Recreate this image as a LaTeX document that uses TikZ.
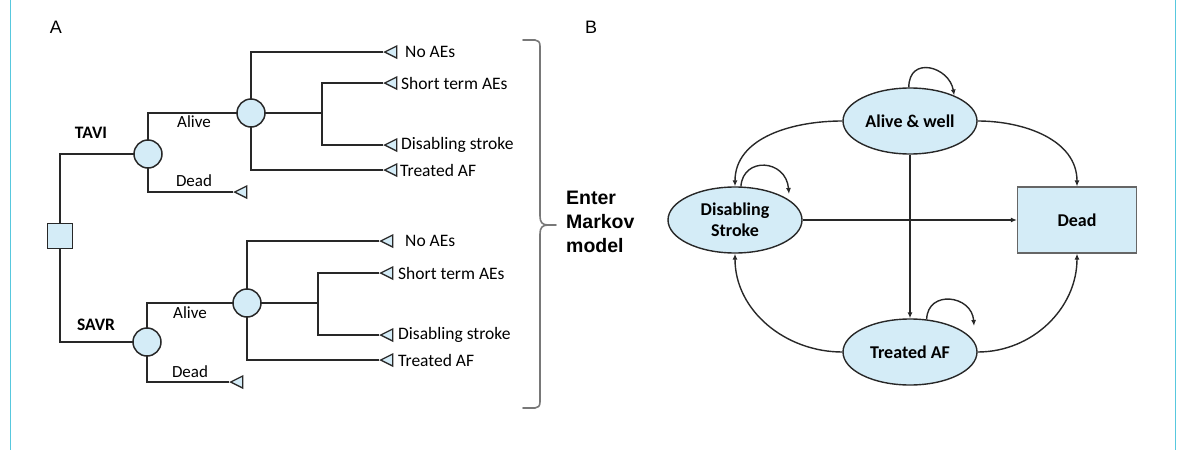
\documentclass[tikz,border=0pt]{standalone}
\usepackage{fontspec}
\setmainfont{Carlito}
\newfontfamily\arialfont{Liberation Sans}
\usetikzlibrary{shapes.geometric,arrows.meta,calc}

\definecolor{edgegray}{RGB}{40,40,40}
\definecolor{nodefill}{RGB}{212,236,247}
\definecolor{bracegray}{RGB}{120,120,120}
\definecolor{rulecyan}{RGB}{88,200,222}

\pgfdeclarelayer{background}
\pgfsetlayers{background,main}

\tikzset{
  treeline/.style={draw=edgegray, line width=1.9pt},
  decision/.style={draw=edgegray, fill=nodefill, line width=1.5pt, minimum size=25pt, inner sep=0pt},
  chance/.style={circle, draw=edgegray, fill=nodefill, line width=1.5pt, minimum size=28pt, inner sep=0pt},
  terminal/.style={isosceles triangle, isosceles triangle stretches, shape border rotate=180,
    draw=edgegray, fill=nodefill, line width=1.3pt, minimum width=12pt, minimum height=12pt, inner sep=0pt, anchor=apex},
  outcome/.style={anchor=west, inner sep=0pt, font=\fontsize{17.5}{19}\selectfont},
  branch/.style={inner sep=0pt, font=\fontsize{17}{19}\selectfont},
  armlabel/.style={inner sep=0pt, font=\fontsize{17.5}{19}\selectfont\bfseries},
  state/.style={ellipse, draw=edgegray, fill=nodefill, line width=1.4pt, minimum width=134pt, minimum height=66pt,
    inner sep=0pt, align=center, font=\fontsize{18}{21}\selectfont\bfseries},
  absorb/.style={rectangle, draw=gray!80!black, fill=nodefill, line width=1.2pt, minimum width=119pt, minimum height=66pt,
    inner sep=0pt, font=\fontsize{18}{21}\selectfont\bfseries},
  trans/.style={draw=edgegray, line width=1.4pt, -{Latex[length=6pt,width=5pt]}},
  panel/.style={inner sep=0pt, font=\arialfont\fontsize{18}{20}\selectfont},
}

\begin{document}
\begin{tikzpicture}[x=1pt, y=1pt]
\useasboundingbox (0,0) rectangle (1178,-450);

% side rules
\draw[rulecyan, line width=1.6pt] (10.5,0) -- (10.5,-450);
\draw[rulecyan, line width=1.6pt] (1175.5,0) -- (1175.5,-450);

% panel letters
\node[panel] (la) at (56,-27) {A};
\node[panel] (lb) at (591,-27) {B};

% ---------- decision tree ----------
\node[decision] (dec) at (60,-236) {};

% TAVI arm
\node[chance] (tc1) at (148,-154) {};
\node[chance] (tc2) at (251,-113) {};
\coordinate (tj) at (322,-113);
\node[terminal] (tdead) at (233,-192) {};
\node[terminal] (tno)   at (383,-52)  {};
\node[terminal] (tst)   at (383,-83)  {};
\node[terminal] (tds)   at (383,-145) {};
\node[terminal] (taf)   at (383,-170) {};

% SAVR arm
\node[chance] (sc1) at (147,-342) {};
\node[chance] (sc2) at (247,-303) {};
\coordinate (sj) at (318,-303);
\node[terminal] (sdead) at (229,-382) {};
\node[terminal] (sno)   at (379,-241) {};
\node[terminal] (sst)   at (379,-273) {};
\node[terminal] (sds)   at (379,-335) {};
\node[terminal] (saf)   at (379,-360) {};

% branch lines, kept behind the node shapes
\begin{pgfonlayer}{background}
\draw[treeline] (dec.center) |- (tc1.center);
\draw[treeline] (dec.center) |- (sc1.center);
\draw[treeline] (tc1.center) |- (tc2.center);
\draw[treeline] (tc1.center) |- (tdead.apex);
\draw[treeline] (tc2.center) |- (tno.apex);
\draw[treeline] (tc2.center) |- (taf.apex);
\draw[treeline] (tc2.center) -- (tj);
\draw[treeline] (tj) |- (tst.apex);
\draw[treeline] (tj) |- (tds.apex);
\draw[treeline] (sc1.center) |- (sc2.center);
\draw[treeline] (sc1.center) |- (sdead.apex);
\draw[treeline] (sc2.center) |- (sno.apex);
\draw[treeline] (sc2.center) |- (saf.apex);
\draw[treeline] (sc2.center) -- (sj);
\draw[treeline] (sj) |- (sst.apex);
\draw[treeline] (sj) |- (sds.apex);
\end{pgfonlayer}

% arm and branch labels
\node[armlabel] (ltavi) at (91,-133) {TAVI};
\node[armlabel] (lsavr) at (96,-325) {SAVR};
\node[branch] (ta) at (194,-122) {Alive};
\node[branch] (td) at (194,-181) {Dead};
\node[branch] (sa) at (190,-313) {Alive};
\node[branch] (sd) at (190,-372) {Dead};

\node[outcome] (otno) at (405,-52)  {No AEs};
\node[outcome] (otst) at (401,-83)  {Short term AEs};
\node[outcome] (otds) at (401,-145) {Disabling stroke};
\node[outcome] (otaf) at (400,-170) {Treated AF};
\node[outcome] (osno) at (405,-241) {No AEs};
\node[outcome] (osst) at (398,-273) {Short term AEs};
\node[outcome] (osds) at (398,-335) {Disabling stroke};
\node[outcome] (osaf) at (398,-360) {Treated AF};

% brace gathering all outcomes
\draw[bracegray, line width=1.6pt, line cap=round, line join=round]
  (523,-40) -- (535,-40) .. controls (538,-40) and (540,-42) .. (540,-46)
  -- (540,-216) .. controls (540,-222) and (542,-225) .. (548,-225) -- (556,-225);
\draw[bracegray, line width=1.6pt, line cap=round, line join=round]
  (548,-225) .. controls (542,-225) and (540,-228) .. (540,-234)
  -- (540,-402) .. controls (540,-406) and (538,-408) .. (535,-408) -- (523,-408);

\node[anchor=west, align=left, inner sep=0pt, font=\arialfont\bfseries\fontsize{19.5}{24}\selectfont] (enter)
  at (566,-222) {Enter\\Markov\\model};

% ---------- Markov model ----------
\node[state] (alive) at (910,-121) {Alive \& well};
\node[state] (dis)   at (735,-220) {Disabling\\Stroke};
\node[state] (taf2)  at (910,-352) {Treated AF};
\node[absorb] (dead) at (1077,-220) {Dead};

\coordinate (dfree) at (789,-194);
\coordinate (afree) at (974,-326);

\draw[trans] (alive.east) to[out=0, in=90] (dead.north);
\draw[trans] (alive.west) to[out=180, in=90] (dis.north);
\draw[trans] (alive.south) -- (taf2.north);
\draw[trans] (dis.east) -- (dead.west);
\draw[trans] (taf2.east) to[out=0, in=-90] (dead.south);
\draw[trans] (taf2.west) to[out=180, in=-90] (dis.south);

% self transitions
\draw[trans] (alive.92) .. controls +(0,32) and +(-5,29) .. (alive.30);
\draw[trans] (dis.80) .. controls +(2,30) and +(-3,35) .. (dfree);
\draw[trans] (taf2.63) .. controls +(1,30) and +(-2,31) .. (afree);
\end{tikzpicture}
\end{document}
